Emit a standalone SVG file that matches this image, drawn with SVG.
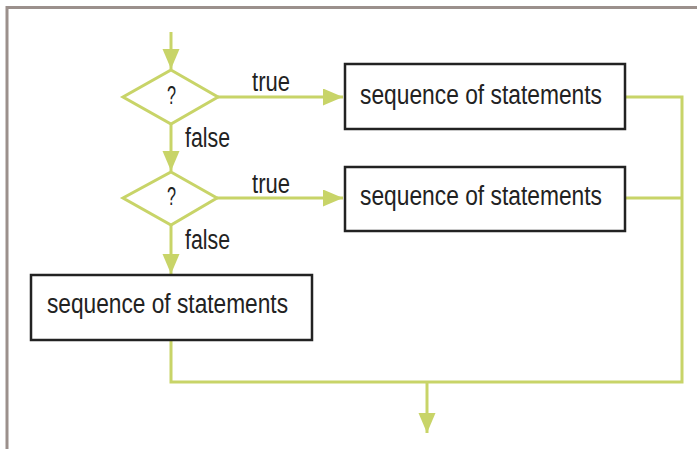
<svg xmlns="http://www.w3.org/2000/svg" width="697" height="449" viewBox="0 0 697 449">
<style>
.frame{fill:none;stroke:#9b908c;stroke-width:3}
.ln{fill:none;stroke:#c8d468;stroke-width:3}
.box{fill:#fff;stroke:#222;stroke-width:2.5}
.dia{fill:#fff;stroke:#c8d468;stroke-width:3;stroke-linejoin:miter}
.t{font-family:"Liberation Sans",Arial,sans-serif;font-size:27px;fill:#222}
.q{font-family:"Liberation Sans",Arial,sans-serif;font-size:25px;fill:#222}
</style>
<defs>
<marker id="ah" markerUnits="userSpaceOnUse" markerWidth="21" markerHeight="18" refX="20" refY="8.5" orient="auto">
<path d="M0,0 L20,8.5 L0,17 Z" fill="#c8d468"/>
</marker>
</defs>
<rect width="697" height="449" fill="#fff"/>
<path class="frame" d="M7,449 V7.5 H697"/>
<g id="connectors">
<line class="ln" x1="171" y1="32" x2="171" y2="69" marker-end="url(#ah)"/>
<line class="ln" x1="218" y1="97" x2="343" y2="97" marker-end="url(#ah)"/>
<line class="ln" x1="171" y1="124" x2="171" y2="171" marker-end="url(#ah)"/>
<line class="ln" x1="217" y1="198" x2="343" y2="198" marker-end="url(#ah)"/>
<line class="ln" x1="171" y1="225" x2="171" y2="274" marker-end="url(#ah)"/>
<path class="ln" d="M625,97 H682 V382 H171 V340"/>
<line class="ln" x1="625" y1="198" x2="682" y2="198"/>
<line class="ln" x1="427" y1="382" x2="427" y2="433" marker-end="url(#ah)"/>
<text class="t" x="252" y="91" textLength="38" lengthAdjust="spacingAndGlyphs">true</text>
<text class="t" x="185" y="147" textLength="45" lengthAdjust="spacingAndGlyphs">false</text>
<text class="t" x="252" y="193" textLength="38" lengthAdjust="spacingAndGlyphs">true</text>
<text class="t" x="185" y="249" textLength="45" lengthAdjust="spacingAndGlyphs">false</text>
</g>
<g id="decision1">
<polygon class="dia" points="171,70 218,97 171,124 123,97"/>
<text class="q" x="167" y="104" textLength="9" lengthAdjust="spacingAndGlyphs">?</text>
</g>
<g id="decision2">
<polygon class="dia" points="171,172 217,198 171,225 123,198"/>
<text class="q" x="167" y="205" textLength="9" lengthAdjust="spacingAndGlyphs">?</text>
</g>
<g id="seq1">
<rect class="box" x="345" y="64" width="280" height="65"/>
<text class="t" x="360" y="104" textLength="242" lengthAdjust="spacingAndGlyphs">sequence of statements</text>
</g>
<g id="seq2">
<rect class="box" x="345" y="167" width="280" height="64"/>
<text class="t" x="360" y="205" textLength="242" lengthAdjust="spacingAndGlyphs">sequence of statements</text>
</g>
<g id="seq3">
<rect class="box" x="31" y="275" width="281" height="65"/>
<text class="t" x="47" y="313" textLength="241" lengthAdjust="spacingAndGlyphs">sequence of statements</text>
</g>
</svg>
